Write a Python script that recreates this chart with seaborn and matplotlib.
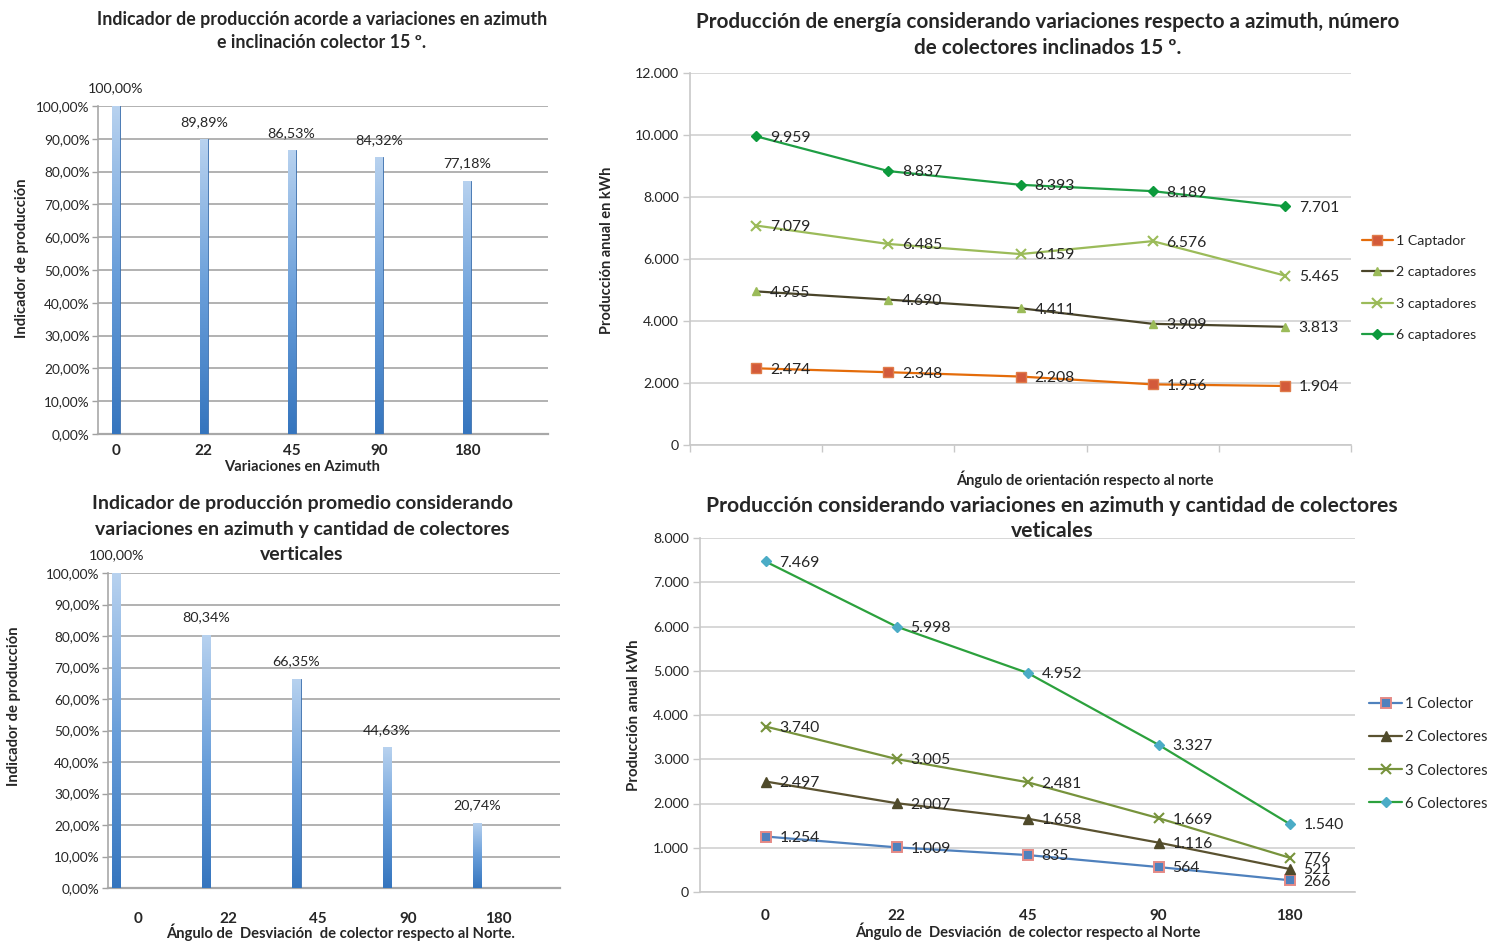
import numpy as np
import matplotlib
matplotlib.use("Agg")
import matplotlib.pyplot as plt
from matplotlib.colors import LinearSegmentedColormap
from matplotlib.ticker import FuncFormatter, MultipleLocator
import seaborn as sns

# ---------------- data ----------------
angles = ['0', '22', '45', '90', '180']
ind_15 = [100.00, 89.89, 86.53, 84.32, 77.18]
ind_vert = [100.00, 80.34, 66.35, 44.63, 20.74]

cap_names = ['1 Captador', '2 captadores', '3 captadores', '6 captadores']
cap1 = [2474, 2348, 2208, 1956, 1904]
cap2 = [4955, 4690, 4411, 3909, 3813]
cap3 = [7079, 6485, 6159, 6576, 5465]
cap6 = [9959, 8837, 8393, 8189, 7701]

col_names = ['1 Colector', '2 Colectores', '3 Colectores', '6 Colectores']
col1 = [1254, 1009, 835, 564, 266]
col2 = [2497, 2007, 1658, 1116, 521]
col3 = [3740, 3005, 2481, 1669, 776]
col6 = [7469, 5998, 4952, 3327, 1540]

title_tl = ["Indicador de producción acorde a variaciones en azimuth",
            "e inclinación colector 15 º."]
title_tr = ["Producción de energía considerando variaciones respecto a azimuth, número",
            "de colectores inclinados 15 º."]
title_bl = ["Indicador de producción promedio considerando",
            "variaciones en azimuth y cantidad de colectores",
            "verticales"]
title_br = ["Producción considerando variaciones en azimuth y cantidad de colectores",
            "veticales"]

# ---------------- style ----------------
sns.set_theme(style="white")
plt.rcParams['font.family'] = ['Lato', 'DejaVu Sans']
TXT = '#262626'

W, H = 1497, 941
fig = plt.figure(figsize=(W / 100, H / 100), dpi=100)
fig.patch.set_facecolor('white')


def ax_px(left, top, right, bottom):
    return fig.add_axes([left / W, 1 - bottom / H, (right - left) / W, (bottom - top) / H])


def ftext(x, y, s, **kw):
    fig.text(x / W, 1 - y / H, s, ha='center', va='center', color=TXT, **kw)


pct_fmt = FuncFormatter(lambda v, p: f"{v:.2f}%".replace('.', ','))
thou_fmt = FuncFormatter(lambda v, p: f"{int(round(v)):,}".replace(',', '.'))

bar_cmap = LinearSegmentedColormap.from_list('barg', ['#3575BE', '#6A9FDA', '#B8D2EF'])
grad = np.linspace(0, 1, 256).reshape(-1, 1)


def bar_chart(ax, values, xlim, tick_offset, tick_pad, xlabel, xlabel_xy, ylabel_xy):
    sns.barplot(x=angles, y=values, width=0.09, color='#5B93D3', ax=ax, zorder=3)
    for p in ax.patches:
        x0, y0, w, h = p.get_x(), p.get_y(), p.get_width(), p.get_height()
        im = ax.imshow(grad, extent=[x0, x0 + w, y0, y0 + h], cmap=bar_cmap,
                       aspect='auto', origin='lower', zorder=3.5)
        im.set_clip_path(p)
        p.set_edgecolor('#3C70AE')
        p.set_linewidth(0.6)
    for i, v in enumerate(values):
        ax.annotate(f"{v:.2f}%".replace('.', ','), xy=(i, v), xytext=(0, 12.5),
                    textcoords='offset points', ha='center', va='center',
                    fontsize=10.3, color=TXT, annotation_clip=False)
    ax.set_xlim(*xlim)
    ax.set_ylim(0, 100)
    ax.yaxis.set_major_locator(MultipleLocator(10))
    ax.yaxis.set_major_formatter(pct_fmt)
    ax.set_xticks([i + tick_offset for i in range(len(angles))])
    ax.set_xticklabels(angles, fontweight='bold', fontsize=11, color=TXT)
    ax.tick_params(axis='x', length=0, pad=tick_pad)
    ax.tick_params(axis='y', length=4, width=1, color='#A0A0A0', labelsize=9.8,
                   labelcolor=TXT, pad=2, left=True)
    ax.grid(axis='y', color='#ABABAB', lw=1.3, zorder=0)
    ax.set_axisbelow(True)
    for s in ['top', 'right']:
        ax.spines[s].set_visible(False)
    ax.spines['left'].set_color('#A8A8A8')
    ax.spines['bottom'].set_color('#A8A8A8')
    ax.spines['left'].set_linewidth(1.2)
    ax.spines['bottom'].set_linewidth(1.6)
    ax.set_xlabel(xlabel, fontweight='bold', fontsize=10.6, color=TXT, va='center')
    ax.xaxis.set_label_coords(*xlabel_xy)
    ax.set_ylabel("Indicador de producción", fontweight='bold', fontsize=10.6,
                  color=TXT, va='center')
    ax.yaxis.set_label_coords(*ylabel_xy)


# ---------------- top-left ----------------
ax1 = ax_px(98, 106, 548, 434)
bar_chart(ax1, ind_15, (-0.205, 4.92), 0.0, 7, "Variaciones en Azimuth",
          (0.453, -0.1), (-0.168, 0.537))
ftext(322, 19, title_tl[0], fontsize=12.8, fontweight='bold')
ftext(322, 42, title_tl[1], fontsize=12.8, fontweight='bold')

# ---------------- bottom-left ----------------
ax3 = ax_px(108, 573, 560, 888)
bar_chart(ax3, ind_vert, (-0.09, 4.92), 0.24, 17,
          "Ángulo de  Desviación  de colector respecto al Norte.",
          (0.515, -0.14), (-0.207, 0.578))
ftext(302, 504, title_bl[0], fontsize=14, fontweight='bold')
ftext(302, 529, title_bl[1], fontsize=14, fontweight='bold')
ftext(302, 554, title_bl[2], fontsize=14, fontweight='bold')


# ---------------- line charts helper ----------------
def line_chart(ax, series, names, styles, ylim, step):
    for vals, name, st in zip(series, names, styles):
        sns.lineplot(x=angles, y=vals, ax=ax, sort=False, label=name,
                     color=st['line'], lw=1.6, marker=st['marker'],
                     markersize=st.get('ms', 6), markerfacecolor=st['mfc'],
                     markeredgecolor=st['mec'], markeredgewidth=st.get('mew', 1.0),
                     zorder=3)
        for i, v in enumerate(vals):
            ax.annotate(f"{v:,}".replace(',', '.'), xy=(i, v), xytext=(10, -1),
                        textcoords='offset points', ha='left', va='center',
                        fontsize=11.3, color=TXT, zorder=4, annotation_clip=False)
    ax.set_xlim(-0.5, len(angles) - 0.5)
    ax.set_ylim(*ylim)
    ax.yaxis.set_major_locator(MultipleLocator(step))
    ax.yaxis.set_major_formatter(thou_fmt)
    ax.grid(axis='y', color='#D4D4D4', lw=1.3, zorder=0)
    ax.set_axisbelow(True)
    for s in ['top', 'right']:
        ax.spines[s].set_visible(False)
    ax.spines['left'].set_color('#C8C8C8')
    ax.spines['bottom'].set_color('#C8C8C8')
    ax.spines['left'].set_linewidth(1.2)
    ax.spines['bottom'].set_linewidth(1.2)
    ax.tick_params(axis='y', length=5, width=1, color='#C8C8C8', labelsize=10.2,
                   labelcolor=TXT, pad=3, left=True)


# ---------------- top-right ----------------
ax2 = ax_px(690, 73, 1351, 445)
styles_tr = [
    dict(line='#E46C0A', marker='s', mfc='#D35A3A', mec='#E07B4A', ms=6.5),
    dict(line='#4A452A', marker='^', mfc='#9BBB59', mec='#9BBB59', ms=6),
    dict(line='#9BBB59', marker='x', mfc='#9BBB59', mec='#9BBB59', ms=6.5, mew=1.5),
    dict(line='#1E9E44', marker='D', mfc='#0C9A3C', mec='#0C9A3C', ms=5.5),
]
line_chart(ax2, [cap1, cap2, cap3, cap6], cap_names, styles_tr, (0, 12000), 2000)
ax2.set_xticks([i - 0.5 for i in range(len(angles) + 1)])
ax2.set_xticklabels([''] * (len(angles) + 1))
ax2.tick_params(axis='x', length=5, width=1, color='#C8C8C8', bottom=True)
ax2.set_xlabel("Ángulo de orientación respecto al norte", fontweight='bold',
               fontsize=10.5, color=TXT, va='center')
ax2.xaxis.set_label_coords(0.598, -0.091)
ax2.set_ylabel("Producción anual en kWh", fontweight='bold', fontsize=10.5,
               color=TXT, va='center')
ax2.yaxis.set_label_coords(-0.125, 0.524)
leg = ax2.legend(loc='center left', bbox_to_anchor=(1.016, 0.422), frameon=False,
                 fontsize=10.2, handlelength=2.2, handletextpad=0.25,
                 labelspacing=1.36, borderpad=0, borderaxespad=0)
for t in leg.get_texts():
    t.set_color(TXT)
ftext(1048, 22, title_tr[0], fontsize=14.9, fontweight='bold')
ftext(1048, 48, title_tr[1], fontsize=14.9, fontweight='bold')

# ---------------- bottom-right ----------------
ax4 = ax_px(700, 538, 1355, 892)
styles_br = [
    dict(line='#4F81BD', marker='s', mfc='#4F81BD', mec='#E58A86', ms=6.5, mew=1.4),
    dict(line='#5A5230', marker='^', mfc='#4F4A2A', mec='#4F4A2A', ms=6.5),
    dict(line='#77933C', marker='x', mfc='#77933C', mec='#77933C', ms=6.5, mew=1.5),
    dict(line='#2CA13D', marker='D', mfc='#4BACC6', mec='#4BACC6', ms=5.5),
]
line_chart(ax4, [col1, col2, col3, col6], col_names, styles_br, (0, 8000), 1000)
ax4.set_xticks(range(len(angles)))
ax4.set_xticklabels(angles, fontweight='bold', fontsize=11, color=TXT)
ax4.tick_params(axis='x', length=0, pad=12)
ax4.set_xlabel("Ángulo de  Desviación  de colector respecto al Norte",
               fontweight='bold', fontsize=10.6, color=TXT, va='center')
ax4.xaxis.set_label_coords(0.5, -0.11)
ax4.set_ylabel("Producción anual kWh", fontweight='bold', fontsize=10.8,
               color=TXT, va='center')
ax4.yaxis.set_label_coords(-0.1, 0.5)
leg = ax4.legend(loc='center left', bbox_to_anchor=(1.022, 0.39), frameon=False,
                 fontsize=10.6, handlelength=2.2, handletextpad=0.25,
                 labelspacing=1.3, borderpad=0, borderaxespad=0)
for t in leg.get_texts():
    t.set_color(TXT)
ftext(1052, 506, title_br[0], fontsize=15.2, fontweight='bold')
ftext(1052, 531, title_br[1], fontsize=15.2, fontweight='bold')

fig.savefig("out.png", dpi=100, facecolor='white')
